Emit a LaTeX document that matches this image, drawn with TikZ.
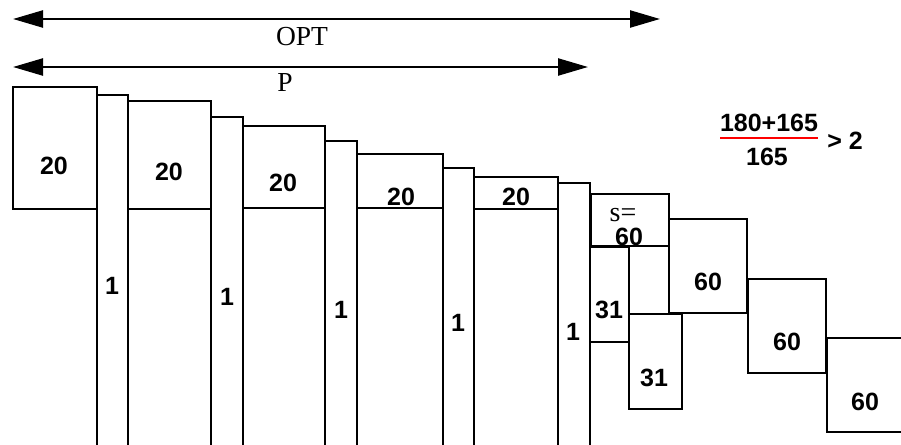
\documentclass[tikz,border=0pt]{standalone}
\usepackage{fontspec}
\setmainfont{Liberation Serif}
\newfontfamily\labfont{Liberation Sans}
\usetikzlibrary{arrows.meta}
\begin{document}
\begin{tikzpicture}[x=1pt,y=-1pt,
  box/.style={line width=2.5pt, line join=miter},
  lab/.style={font=\labfont\bfseries\fontsize{25}{30}\selectfont, inner sep=0pt},
  ser/.style={font=\fontsize{27.5}{32}\selectfont, inner sep=0pt},
  span/.style={line width=2.3pt, {Triangle[length=30pt,width=17pt]}-{Triangle[length=30pt,width=17pt]}},
  fracbar/.style={line width=2.5pt, red}]
\useasboundingbox (0,0) rectangle (901,444);
% span arrows
\coordinate (optL) at (13,19);
\coordinate (optR) at (660,19);
\coordinate (pL) at (13,67);
\coordinate (pR) at (588,67);
\draw[span] (optL) -- (optR);
\draw[span] (pL) -- (pR);
\node[ser] (opt) at (302,37) {OPT};
\node[ser] (p) at (285,82) {P};
% boxes of size 20
\draw[box] (13,87) rectangle (97,209);
\draw[box] (128,101) rectangle (211,209);
\draw[box] (243,126) rectangle (325,208);
\draw[box] (357,154) rectangle (443,208);
\draw[box] (474,177) rectangle (558,209);
% tall strips of size 1
\draw[box] (97,450) |- (128,95) -- (128,450);
\draw[box] (211,450) |- (243,117) -- (243,450);
\draw[box] (325,450) |- (357,141) -- (357,450);
\draw[box] (443,450) |- (474,168) -- (474,450);
\draw[box] (558,450) |- (590,183) -- (590,450);
% right part
\draw[box] (591,194) rectangle (669,246);
\draw[box] (669,219) rectangle (747,313);
\draw[box] (590,247) rectangle (629,342);
\draw[box] (629,247) -- (629,409) -- (682,409) -- (682,314) -- (629,314);
\draw[box] (748,279) rectangle (826,373);
\draw[box] (910,338) -| (827,432) -- (910,432);
% labels
\node[lab] (a) at (54,166) {20};
\node[lab] (b) at (169,172) {20};
\node[lab] (c) at (283,183) {20};
\node[lab] (d) at (401,197) {20};
\node[lab] (e) at (516,197) {20};
\node[lab] (o1) at (112,286) {1};
\node[lab] (o2) at (227,297) {1};
\node[lab] (o3) at (341,310) {1};
\node[lab] (o4) at (458,323) {1};
\node[lab] (o5) at (573,332) {1};
\node[ser, font=\fontsize{28}{32}\selectfont] (s) at (623,215) {s=};
\node[lab] (s60) at (629,237) {60};
\node[lab] (g2) at (708,282) {60};
\node[lab] (t1) at (609,310) {31};
\node[lab] (t2) at (654,378) {31};
\node[lab] (g3) at (787,342) {60};
\node[lab] (g4) at (865,402) {60};
% fraction
\node[lab] (num) at (769,123) {180+165};
\coordinate (fl) at (720,138);
\coordinate (fr) at (818,138);
\draw[fracbar] (fl) -- (fr);
\node[lab] (den) at (767,157) {165};
\node[lab] (gt) at (845,141) {> 2};
\end{tikzpicture}
\end{document}
